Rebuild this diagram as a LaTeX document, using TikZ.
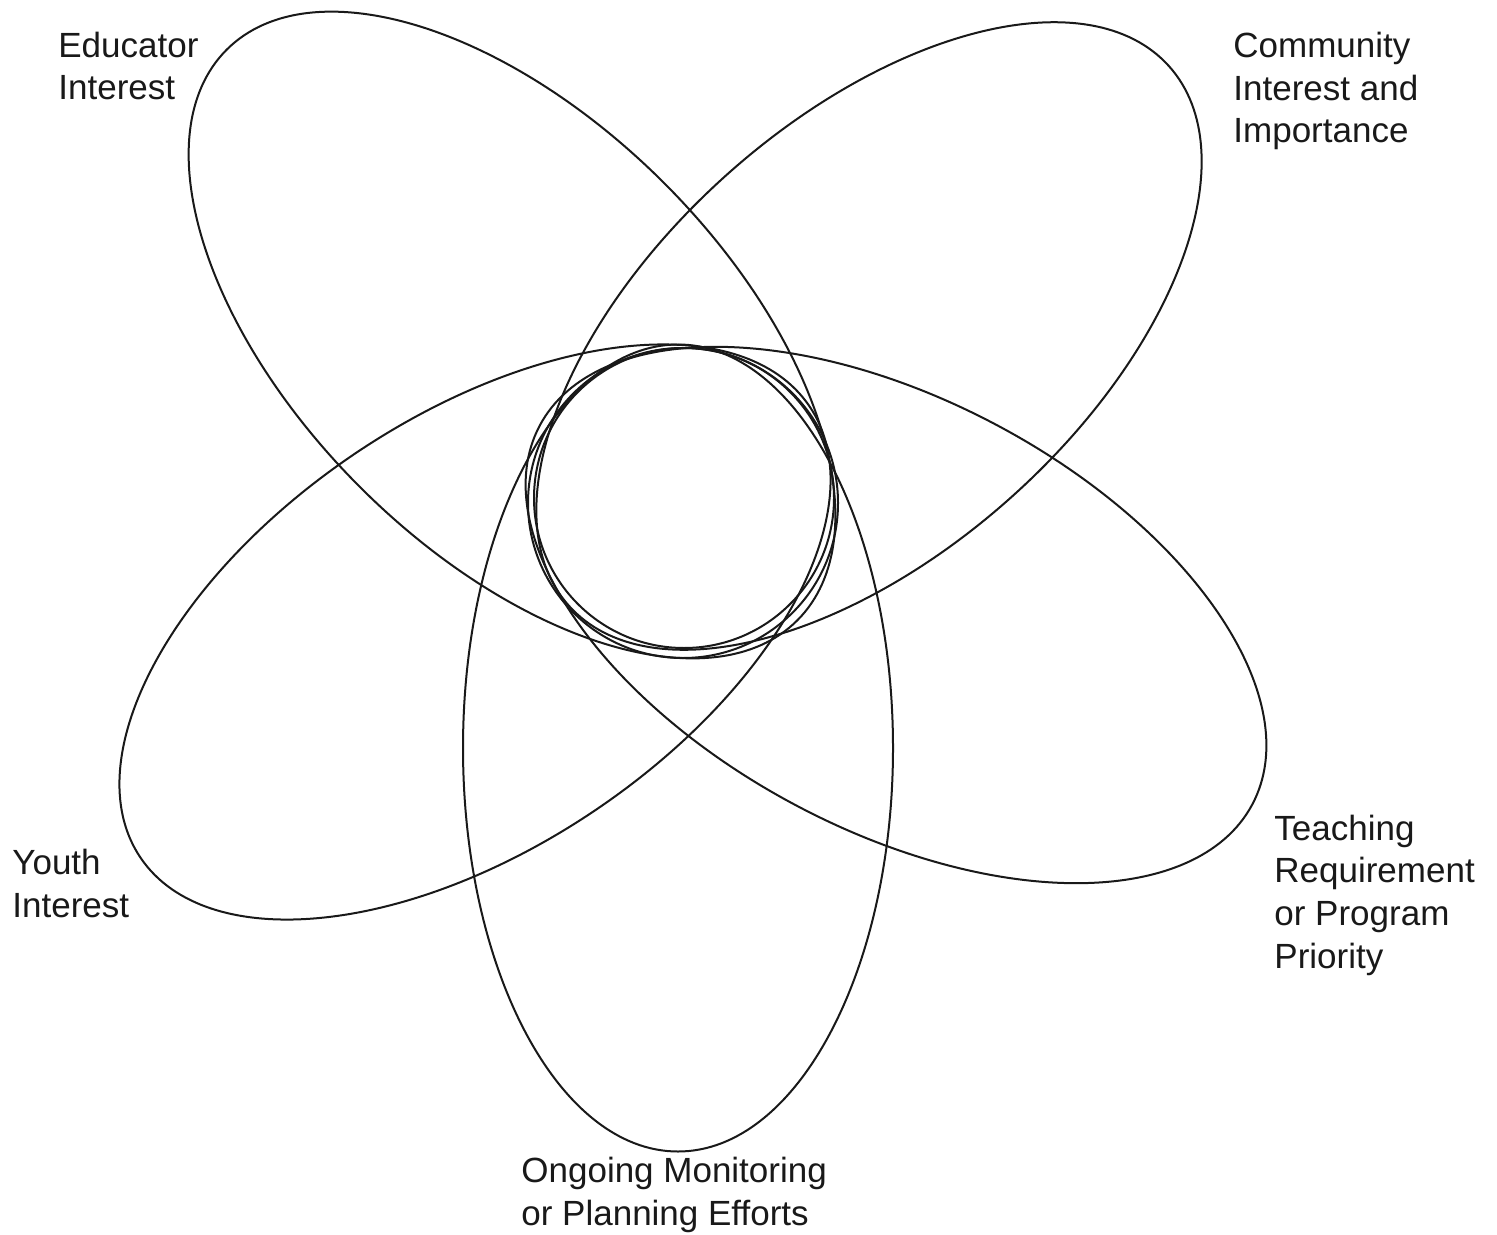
\documentclass[tikz,border=0pt]{standalone}
\usepackage{fontspec}
\setmainfont{Liberation Sans}
\usepackage{tikz}
\usetikzlibrary{positioning}
\usetikzlibrary{calc}

\begin{document}
\begin{tikzpicture}[x=0.5pt, y=-0.5pt,
    ring/.style={line width=1pt, draw=black!90},
    lbl/.style={anchor=base west, align=left, inner sep=0pt, text=black!90,
      font=\fontsize{17.5pt}{21.3pt}\selectfont}]
                \useasboundingbox (0,0) rectangle (1497,1235);

                % Define the centres of the ellipses
                \coordinate (edu) at (512,335);
                \coordinate (com) at (869,336);
                \coordinate (tea) at (896,615);
                \coordinate (you) at (475,632);
                \coordinate (ong) at (678,748);
                \coordinate (hub) at (684,498);
                \coordinate (hubb) at (683,503);

                % Draw the ellipses
                \foreach \c/\ang in {edu/-45, com/42, tea/-28, you/34, ong/-90}
                    \draw[ring, rotate around={\ang:(\c)}] (\c) ellipse [x radius=201.75pt, y radius=107.5pt];

                % Draw the two middle circles
                \draw[ring] (hub) circle [radius=75pt];
                \draw[ring] (hubb) circle [radius=77.5pt];

                % Labels (base = baseline of the last line)
                \node[lbl] (educator) at (58,100) {Educator\\Interest};
                \node[lbl] (community) at (1233,143) {Community\\Interest and\\Importance};
                \node[lbl] (youth) at (12,917) {Youth\\Interest};
                \node[lbl] (ongoing) at (521,1225) {Ongoing Monitoring\\or Planning Efforts};
                \node[lbl] (teaching) at (1274,968) {Teaching\\Requirement\\or Program\\Priority};

            \end{tikzpicture}
\end{document}
